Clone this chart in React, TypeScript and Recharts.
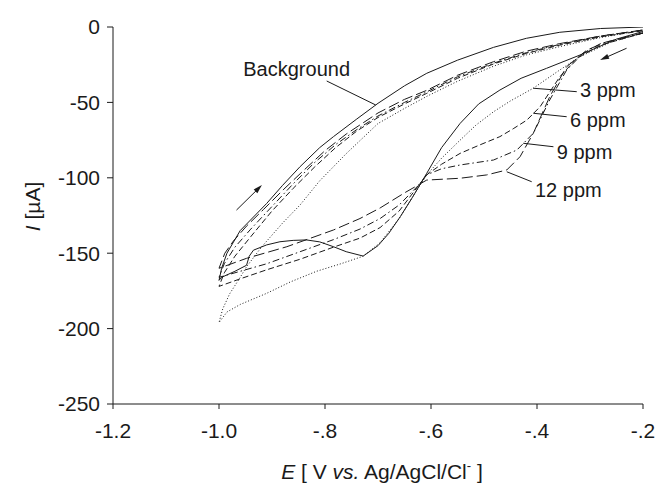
import React from 'react';
import { LineChart, Line, XAxis, YAxis, ReferenceLine, ReferenceDot } from 'recharts';

// ---- Data: [E (V), I (µA)] pairs ----
const bgForward = [[-0.2,-3],[-0.25,-8],[-0.319,-18.6],[-0.382,-27.4],[-0.43,-34],[-0.47,-41.8],[-0.51,-51],[-0.545,-63.9],[-0.58,-80],[-0.608,-97],[-0.635,-113],[-0.658,-125.8],[-0.68,-137],[-0.7,-145],[-0.728,-151.9],[-0.76,-149],[-0.784,-145.7],[-0.81,-142.5],[-0.835,-141.2],[-0.86,-141.5],[-0.885,-142.4],[-0.91,-144.5],[-0.935,-148],[-0.943,-152],[-0.948,-158],[-0.97,-162],[-0.995,-166],[-1.0,-168]];
const bgReverse = [[-1.0,-168],[-0.995,-160],[-0.985,-150],[-0.96,-135],[-0.935,-126],[-0.91,-117],[-0.88,-105],[-0.847,-92.6],[-0.81,-80],[-0.784,-72.7],[-0.74,-61],[-0.7,-50.6],[-0.65,-39],[-0.608,-30.7],[-0.55,-22],[-0.482,-13.5],[-0.42,-7.5],[-0.357,-3.5],[-0.28,-1],[-0.2,0]];

const ppm3Forward = [[-0.2,-4],[-0.26,-10],[-0.319,-19.7],[-0.357,-28.5],[-0.407,-40.6],[-0.45,-49],[-0.482,-56.2],[-0.515,-65],[-0.545,-75],[-0.58,-87],[-0.608,-98],[-0.63,-110],[-0.66,-127],[-0.696,-143],[-0.728,-152],[-0.77,-157],[-0.816,-162],[-0.865,-169],[-0.91,-176.6],[-0.96,-184],[-0.985,-189],[-1.0,-196]];
const ppm3Reverse = [[-1.0,-196],[-0.993,-187],[-0.98,-177],[-0.96,-166],[-0.948,-159],[-0.92,-146],[-0.88,-130],[-0.847,-118],[-0.81,-102],[-0.76,-84],[-0.7,-64],[-0.65,-54],[-0.608,-46],[-0.55,-36],[-0.482,-26],[-0.42,-18.5],[-0.357,-13],[-0.28,-7],[-0.2,-2]];

const ppm6Forward = [[-0.2,-4],[-0.28,-12],[-0.325,-20.8],[-0.357,-33],[-0.394,-52.8],[-0.419,-61.7],[-0.445,-67.5],[-0.47,-72.7],[-0.51,-78.5],[-0.545,-83.8],[-0.58,-91],[-0.608,-98],[-0.621,-104],[-0.66,-122],[-0.696,-133],[-0.734,-140],[-0.784,-146],[-0.847,-154],[-0.91,-161],[-0.96,-167],[-1.0,-172]];
const ppm6Reverse = [[-1.0,-172],[-0.99,-163],[-0.97,-152],[-0.94,-139],[-0.9,-122],[-0.86,-107],[-0.82,-93],[-0.78,-80],[-0.74,-69],[-0.7,-60],[-0.65,-51],[-0.608,-44],[-0.55,-34],[-0.482,-24.5],[-0.42,-17.5],[-0.357,-12],[-0.28,-6.5],[-0.2,-2.5]];

const ppm9Forward = [[-0.2,-4],[-0.28,-11],[-0.313,-17.4],[-0.344,-28.5],[-0.376,-48.4],[-0.407,-70.5],[-0.438,-81.6],[-0.482,-88.2],[-0.545,-91.5],[-0.58,-94],[-0.608,-98],[-0.621,-104],[-0.66,-118],[-0.696,-127],[-0.734,-134],[-0.784,-141],[-0.847,-149],[-0.91,-157],[-0.96,-162],[-1.0,-166]];
const ppm9Reverse = [[-1.0,-166],[-0.99,-157],[-0.97,-146],[-0.94,-134],[-0.9,-119],[-0.86,-104],[-0.82,-90],[-0.78,-78],[-0.74,-68],[-0.7,-59],[-0.65,-50],[-0.608,-43],[-0.55,-33],[-0.482,-24],[-0.42,-17],[-0.357,-11.5],[-0.28,-6],[-0.2,-2]];

const ppm12Forward = [[-0.2,-4],[-0.27,-10],[-0.306,-15.3],[-0.344,-26.3],[-0.376,-46.2],[-0.407,-70.5],[-0.432,-86],[-0.457,-94.8],[-0.495,-98.1],[-0.545,-100.3],[-0.608,-101.5],[-0.65,-110],[-0.696,-120],[-0.734,-127],[-0.784,-134.6],[-0.872,-145.7],[-0.948,-153.4],[-1.0,-160]];
const ppm12Reverse = [[-1.0,-160],[-0.989,-150],[-0.973,-142],[-0.948,-132],[-0.916,-121],[-0.879,-108],[-0.84,-95],[-0.8,-82],[-0.76,-71],[-0.7,-57],[-0.65,-48],[-0.608,-42],[-0.55,-32],[-0.482,-23],[-0.42,-16],[-0.357,-11],[-0.28,-6],[-0.2,-2]];

const xTicks = [-1.2, -1.0, -0.8, -0.6, -0.4, -0.2];
const xTickLabels = ['-1.2', '-1.0', '-.8', '-.6', '-.4', '-.2'];
const yTicks = [0, -50, -100, -150, -200, -250];

const seriesNames = ['Background', '3 ppm', '6 ppm', '9 ppm', '12 ppm'];
const annotationText = [['Background', -0.9542, -32.3], ['3 ppm', -0.3189, -46.4], ['6 ppm', -0.3377, -66.5], ['9 ppm', -0.3628, -87.7], ['12 ppm', -0.4038, -112.5]];
const leaderLines = [
  [[-0.7968, -35.8], [-0.7044, -51.7]],
  [[-0.407, -40.6], [-0.325, -42.9]],
  [[-0.407, -57.2], [-0.344, -59.5]],
  [[-0.426, -77.1], [-0.369, -79.4]],
  [[-0.457, -96.0], [-0.41, -102.6]],
];
const sweepArrows = [
  [[-0.231, -14.1], [-0.281, -21.9]],
  [[-0.967, -121.4], [-0.919, -104.8]],
];

// ---- styling ----
const FONT = '"Liberation Sans", Arial, Helvetica, sans-serif';
const INK = '#1a1a1a';
const dashes = [undefined, '1 2', '6 3', '7 3 1.5 3', '11 4'];

const toPts = (arr: number[][]) => arr.map(([e, i]) => ({ e, i }));
const series = [
  [bgForward, bgReverse],
  [ppm3Forward, ppm3Reverse],
  [ppm6Forward, ppm6Reverse],
  [ppm9Forward, ppm9Reverse],
  [ppm12Forward, ppm12Reverse],
].map(([f, r], k) => ({ name: seriesNames[k], data: toPts([...f, ...r.slice(1)]), dash: dashes[k] }));

const arrowShape = (props: any) => {
  const { x1, y1, x2, y2 } = props;
  const dx = x2 - x1, dy = y2 - y1;
  const len = Math.hypot(dx, dy) || 1;
  const ux = dx / len, uy = dy / len;
  const hl = 9, hw = 2.6;
  const bx = x2 - ux * hl, by = y2 - uy * hl;
  const px = -uy * hw, py = ux * hw;
  return (
    <g>
      <line x1={x1} y1={y1} x2={bx + ux * 2} y2={by + uy * 2} stroke={INK} strokeWidth={1} />
      <polygon points={`${x2},${y2} ${bx + px},${by + py} ${bx - px},${by - py}`} fill={INK} />
    </g>
  );
};

const textShape = (text: string) => (props: any) => (
  <text x={props.cx} y={props.cy} fontSize={20} fontFamily={FONT} fill={INK}>{text}</text>
);

const YTitle = (props: any) => {
  const vb = props.viewBox || { x: 0, y: 27, width: 113, height: 377 };
  const cx = vb.x + 32;
  const cy = vb.y + vb.height / 2 - 9;
  return (
    <text x={cx} y={cy} transform={`rotate(-90, ${cx}, ${cy})`} textAnchor="middle" dominantBaseline="central" fontSize={21} fontFamily={FONT} fill={INK}>
      <tspan fontStyle="italic">I</tspan> [µA]
    </text>
  );
};

const XTitle = (props: any) => {
  const vb = props.viewBox || { x: 113, y: 404, width: 530, height: 80 };
  const cx = vb.x + vb.width / 2 + 4;
  const y = vb.y + 75;
  return (
    <text x={cx} y={y} textAnchor="middle" fontSize={21} fontFamily={FONT} fill={INK}>
      <tspan fontStyle="italic">E</tspan> [ V <tspan fontStyle="italic">vs.</tspan> Ag/AgCl/Cl<tspan fontSize={13} dy={-9}>-</tspan><tspan dy={9}> ]</tspan>
    </text>
  );
};

const tickStyle = { fontSize: 21, fontFamily: FONT, fill: INK };

export default function App() {
  return (
    <div style={{ position: 'absolute', left: 0, top: 0, background: '#fff' }}>
      <LineChart width={662} height={484} margin={{ top: 27, right: 19, bottom: 0, left: 0 }}>
        <XAxis
          dataKey="e"
          type="number"
          domain={[-1.2, -0.2]}
          ticks={xTicks}
          tickFormatter={(v: number, idx: number) => xTickLabels[idx] ?? String(v)}
          height={80}
          tickSize={5}
          tickMargin={14}
          stroke={INK}
          tick={tickStyle}
          allowDataOverflow
          label={<XTitle />}
        />
        <XAxis xAxisId="top" orientation="top" type="number" domain={[-1.2, -0.2]} tick={false} tickLine={false} height={0} stroke={INK} />
        <YAxis
          type="number"
          domain={[-250, 0]}
          ticks={yTicks}
          width={113}
          tickSize={6}
          tickMargin={7}
          stroke={INK}
          tick={tickStyle}
          allowDataOverflow
          label={<YTitle />}
        />
        <YAxis yAxisId="right" orientation="right" type="number" domain={[-250, 0]} tick={false} tickLine={false} width={0} stroke={INK} />
        {series.map((s) => (
          <Line
            key={s.name}
            data={s.data}
            dataKey="i"
            type="linear"
            stroke={INK}
            strokeWidth={1}
            strokeDasharray={s.dash}
            dot={false}
            activeDot={false}
            isAnimationActive={false}
          />
        ))}
        {leaderLines.map((seg, k) => (
          <ReferenceLine key={'l' + k} segment={[{ x: seg[0][0], y: seg[0][1] }, { x: seg[1][0], y: seg[1][1] }]} stroke={INK} strokeWidth={1} ifOverflow="visible" />
        ))}
        {sweepArrows.map((seg, k) => (
          <ReferenceLine key={'a' + k} segment={[{ x: seg[0][0], y: seg[0][1] }, { x: seg[1][0], y: seg[1][1] }]} shape={arrowShape} ifOverflow="visible" />
        ))}
        {annotationText.map(([t, e, i]) => (
          <ReferenceDot key={'t' + t} x={e as number} y={i as number} r={0} shape={textShape(t as string)} ifOverflow="visible" />
        ))}
      </LineChart>
    </div>
  );
}
